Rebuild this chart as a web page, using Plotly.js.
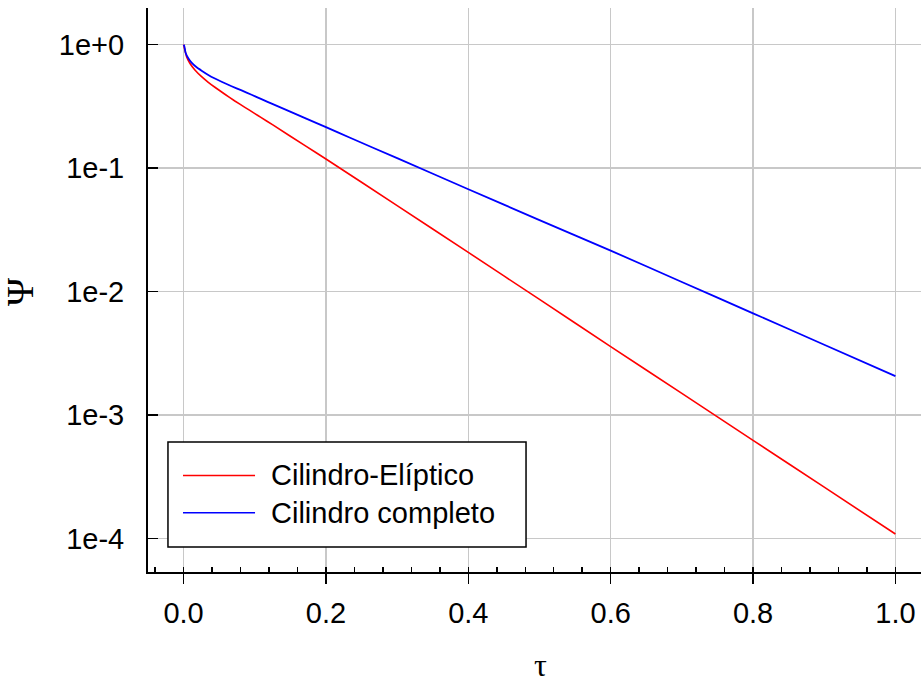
<!DOCTYPE html>
<html>
<head>
<meta charset="utf-8">
<script src="https://cdn.plot.ly/plotly-3.0.1.min.js"></script>
<style>
html, body { margin: 0; padding: 0; overflow: hidden; background: #ffffff; }
#chart { width: 934px; height: 683px; }
</style>
</head>
<body>
<div id="chart"></div>
<script>
// ---- data ----
const seriesNames = ['Cilindro-Elíptico', 'Cilindro completo'];

const tauRed = [0, 0.0018, 0.0042, 0.0088, 0.0159, 0.0253, 0.0347, 0.044, 0.058, 0.072, 0.0861, 0.1001, 0.1086, 0.1254, 0.1723, 0.2, 0.3, 0.4, 0.5, 0.6, 0.7, 0.8, 0.9, 1.0];
const psiRed = [1, 0.906, 0.800, 0.707, 0.624, 0.551, 0.496, 0.452, 0.397, 0.350, 0.311, 0.2767, 0.2576, 0.2239, 0.150, 0.1186, 0.0498, 0.0208, 0.00865, 0.00359, 0.00150, 0.000625, 0.000261, 0.000109];

const tauBlue = [0, 0.001, 0.0028, 0.0066, 0.0112, 0.0183, 0.0253, 0.0347, 0.044, 0.0534, 0.0674, 0.0815, 0.0955, 0.1086, 0.1254, 0.1723, 0.2, 0.2331, 0.3, 0.4, 0.5, 0.6, 0.7, 0.8, 0.9, 1.0];
const psiBlue = [1, 0.976, 0.861, 0.776, 0.715, 0.656, 0.616, 0.569, 0.532, 0.501, 0.461, 0.426, 0.393, 0.364, 0.330, 0.252, 0.215, 0.177, 0.1205, 0.0675, 0.0380, 0.0215, 0.01197, 0.00668, 0.00372, 0.00207];

const xTickVals = [0, 0.2, 0.4, 0.6, 0.8, 1.0];
const xTickText = ['0.0', '0.2', '0.4', '0.6', '0.8', '1.0'];
const yTickVals = [1, 0.1, 0.01, 0.001, 0.0001];
const yTickText = ['1e+0', '1e-1', '1e-2', '1e-3', '1e-4'];

const xTitle = 'τ';
const yTitle = 'Ψ';

// ---- styling ----
const sans = 'Liberation Sans, Arial, sans-serif';
const serif = 'Liberation Serif, Times New Roman, serif';
const colors = ['#ff0000', '#0000ff'];

const traces = [
  { x: tauRed, y: psiRed, name: seriesNames[0], type: 'scatter', mode: 'lines',
    line: { color: colors[0], width: 1.6, shape: 'spline', smoothing: 0.4 }, showlegend: false },
  { x: tauBlue, y: psiBlue, name: seriesNames[1], type: 'scatter', mode: 'lines',
    line: { color: colors[1], width: 1.8, shape: 'spline', smoothing: 0.4 }, showlegend: false }
];

const xRange = [-0.05, 1.05];

// custom legend geometry (paper coords)
const lgX0 = 0.0255, lgX1 = 0.4828, lgY0 = 0.0443, lgY1 = 0.2305;
const rowY = [0.1711, 0.1051];
const lineX0 = 0.0447, lineX1 = 0.1367, textX = 0.1546;

const shapes = [
  { type: 'rect', xref: 'paper', yref: 'paper', x0: lgX0, x1: lgX1, y0: lgY0, y1: lgY1,
    line: { color: '#000000', width: 1.5 }, fillcolor: '#ffffff', layer: 'above' }
];
const annotations = [];
seriesNames.forEach((n, i) => {
  shapes.push({ type: 'line', xref: 'paper', yref: 'paper', x0: lineX0, x1: lineX1, y0: rowY[i], y1: rowY[i],
    line: { color: colors[i], width: 1.6 }, layer: 'above' });
  annotations.push({ xref: 'paper', yref: 'paper', x: textX, y: rowY[i], xanchor: 'left', yanchor: 'middle',
    text: n, showarrow: false, font: { family: sans, size: 29, color: '#000000' } });
});
// axis titles (placed as annotations so they sit where the reference has them)
annotations.push({ xref: 'paper', yref: 'paper', x: 0.5019, y: -0.1649, xanchor: 'center', yanchor: 'middle',
  text: xTitle, showarrow: false, font: { family: serif, size: 32, color: '#000000' } });
annotations.push({ xref: 'paper', yref: 'paper', x: -0.1635, y: 0.4965, xanchor: 'center', yanchor: 'middle',
  textangle: -90, text: yTitle, showarrow: false, font: { family: serif, size: 38, color: '#000000' } });

const layout = {
  width: 934, height: 683,
  margin: { l: 148, r: 3, t: 8, b: 111 },
  paper_bgcolor: '#ffffff', plot_bgcolor: '#ffffff',
  showlegend: false,
  xaxis: {
    range: xRange, tickvals: xTickVals, ticktext: xTickText,
    ticks: 'outside', ticklen: 10, tickwidth: 1.5, tickcolor: '#000000',
    showline: true, linecolor: '#000000', linewidth: 2,
    showgrid: true, gridcolor: '#c8c8c8', gridwidth: 1.4, zeroline: false,
    minor: { ticks: 'inside', dtick: 0.04, tick0: 0, ticklen: 5, tickwidth: 1.5, tickcolor: '#000000', showgrid: false },
    tickfont: { family: sans, size: 29, color: '#000000' },
    ticklabelstandoff: 4
  },
  xaxis2: {
    overlaying: 'x', side: 'top', anchor: 'y',
    range: xRange, tickvals: xTickVals, showticklabels: false,
    ticks: 'inside', ticklen: 10, tickwidth: 1.5, tickcolor: '#000000',
    showline: true, linecolor: '#000000', linewidth: 2,
    showgrid: false, zeroline: false,
    minor: { ticks: 'inside', dtick: 0.04, tick0: 0, ticklen: 5, tickwidth: 1.5, tickcolor: '#000000', showgrid: false }
  },
  yaxis: {
    type: 'log', range: [-4.27, 0.297],
    tickvals: yTickVals, ticktext: yTickText,
    ticks: 'inside', ticklen: 10, tickwidth: 1.5, tickcolor: '#000000',
    showline: true, linecolor: '#000000', linewidth: 2,
    showgrid: true, gridcolor: '#c8c8c8', gridwidth: 1.4, zeroline: false,
    tickfont: { family: sans, size: 29, color: '#000000' },
    ticklabelstandoff: 16
  },
  shapes: shapes,
  annotations: annotations
};

Plotly.newPlot('chart', traces, layout, { displayModeBar: false, staticPlot: true });
</script>
</body>
</html>
